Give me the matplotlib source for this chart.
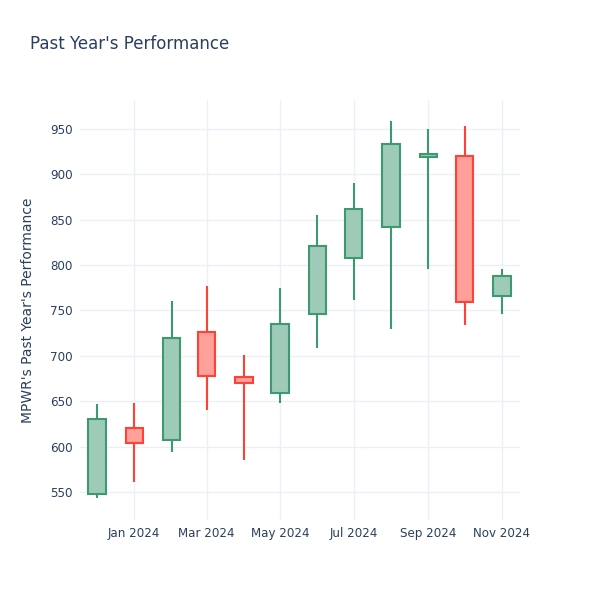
import numpy as np
import pandas as pd
import matplotlib
matplotlib.use("Agg")
import matplotlib.pyplot as plt
import matplotlib.dates as mdates

# monthly OHLC values
months = ["2023-12-01", "2024-01-01", "2024-02-01", "2024-03-01", "2024-04-01", "2024-05-01",
          "2024-06-01", "2024-07-01", "2024-08-01", "2024-09-01", "2024-10-01", "2024-11-01"]
opens = [548, 620, 607, 726, 677, 659, 746, 808, 842, 919, 920, 766]
highs = [647, 648, 760, 777, 701, 775, 855, 890, 959, 950, 953, 796]
lows = [543, 561, 594, 640, 585, 648, 709, 761, 730, 796, 734, 746]
closes = [630, 604, 720, 678, 670, 735, 821, 862, 934, 923, 759, 788]

text_col = "#2a3f5f"
grid_col = "#ebf0f8"
up_line, up_fill = "#3d9970", "#9ecbb7"
down_line, down_fill = "#ff4136", "#ffa09a"

dates = pd.to_datetime(months)
x = mdates.date2num(dates)

fig = plt.figure(figsize=(6, 6), dpi=100)
ax = fig.add_axes([80 / 600, 80 / 600, 440 / 600, 420 / 600])

for xi, o, h, l, c in zip(x, opens, highs, lows, closes):
    up = c >= o
    lc = up_line if up else down_line
    fc = up_fill if up else down_fill
    ax.vlines(xi, l, h, color=lc, linewidth=1.5, zorder=2)
    ax.bar(xi, abs(c - o), bottom=min(o, c), width=14.5, color=fc,
           edgecolor=lc, linewidth=1.5, zorder=3)

ax.set_xlim(mdates.date2num(pd.Timestamp("2023-11-17")),
            mdates.date2num(pd.Timestamp("2024-11-16")))
ax.set_ylim(519, 982)
ax.set_yticks(np.arange(550, 951, 50))
ax.xaxis.set_major_locator(mdates.MonthLocator(bymonth=[1, 3, 5, 7, 9, 11]))
ax.xaxis.set_major_formatter(mdates.DateFormatter("%b %Y"))

ax.grid(True, color=grid_col, linewidth=1, zorder=0)
ax.set_axisbelow(True)
for s in ax.spines.values():
    s.set_visible(False)
ax.tick_params(length=0, labelsize=8.6, colors=text_col, pad=5)

ax.set_ylabel("MPWR's Past Year's Performance", fontsize=10, color=text_col)
ax.yaxis.set_label_coords(-0.102, 0.5)
fig.text(30 / 600, 1 - 44 / 600, "Past Year's Performance", fontsize=12,
         color=text_col, va="center", ha="left")

fig.savefig("out.png", dpi=100)
